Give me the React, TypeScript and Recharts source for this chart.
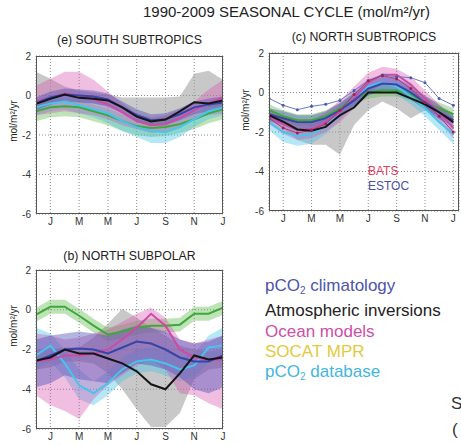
import React from "react"
import { ComposedChart, Area, Line, XAxis, YAxis, CartesianGrid } from "recharts"

// month index 0 = Dec, 1 = Jan ... 13 = Jan
const months = [0, 1, 2, 3, 4, 5, 6, 7, 8, 9, 10, 11, 12, 13]
const monthTicks = [1, 3, 5, 7, 9, 11, 13]
const monthLabels = ["J", "M", "M", "J", "S", "N", "J"]
const yTicks = [2, 0, -2, -4, -6]

// (e) South subtropics
const eGreyHi = [1.2, 0.85, 0.45, 0.25, 0.15, 0.05, -0.1, -0.1, -0.1, -0.1, -0.05, 1.1, 1.25, 0.8]
const eGreyLo = [-0.7, -0.5, -0.2, -0.3, -0.4, -0.6, -0.9, -1.3, -1.5, -1.5, -1.2, -0.7, -0.6, -0.5]
const eBlack = [-0.42, -0.17, 0.05, -0.12, -0.17, -0.25, -0.6, -1.07, -1.32, -1.22, -0.8, -0.34, -0.4, -0.25]
const eMag = [-0.3, -0.1, 0.1, 0.0, -0.2, -0.45, -0.85, -1.3, -1.5, -1.45, -1.15, -0.75, -0.4, -0.1]
const eMagHi = [0.5, 0.85, 1.2, 1.2, 0.8, 0.2, -0.4, -0.9, -1.1, -1.0, -0.7, -0.3, 0.3, 0.8]
const eMagLo = [-1.0, -0.9, -0.8, -0.9, -1.0, -1.2, -1.5, -1.7, -1.9, -1.8, -1.6, -1.2, -1.0, -0.9]
const eBlue = [-0.4, -0.1, 0.05, 0.0, -0.05, -0.2, -0.6, -1.0, -1.25, -1.2, -0.95, -0.6, -0.45, -0.35]
const eBlueHi = [-0.1, 0.2, 0.35, 0.3, 0.25, 0.1, -0.3, -0.7, -0.95, -0.9, -0.65, -0.3, -0.15, -0.05]
const eBlueLo = [-0.75, -0.45, -0.3, -0.35, -0.4, -0.55, -0.9, -1.3, -1.55, -1.5, -1.25, -0.95, -0.8, -0.7]
const eCyan = [-0.6, -0.4, -0.3, -0.5, -0.7, -0.9, -1.3, -1.6, -1.8, -1.85, -1.6, -1.2, -0.8, -0.6]
const eCyanHi = [-0.2, 0.0, 0.1, -0.1, -0.3, -0.5, -0.9, -1.2, -1.4, -1.45, -1.2, -0.8, -0.4, -0.2]
const eCyanLo = [-1.0, -0.8, -0.7, -0.9, -1.1, -1.4, -1.8, -2.1, -2.4, -2.4, -2.1, -1.6, -1.2, -1.0]
const eGreen = [-0.8, -0.6, -0.55, -0.6, -0.8, -1.0, -1.3, -1.55, -1.65, -1.6, -1.45, -1.2, -0.9, -0.7]
const eGreenHi = [-0.45, -0.25, -0.2, -0.25, -0.45, -0.65, -0.95, -1.2, -1.3, -1.25, -1.1, -0.85, -0.55, -0.35]
const eGreenLo = [-1.3, -1.1, -1.05, -1.1, -1.3, -1.5, -1.8, -2.0, -2.1, -2.05, -1.9, -1.7, -1.4, -1.2]

// (c) North subtropics
const cGreyHi = [-1.0, -1.3, -1.6, -1.6, -1.3, -0.8, -0.3, 0.15, 0.2, 0.15, -0.2, -0.5, -0.8, -1.2]
const cGreyLo = [-1.3, -1.8, -2.4, -2.65, -2.65, -3.15, -1.65, -0.9, -0.45, -0.8, -1.3, -0.9, -1.2, -1.6]
const cBlack = [-1.15, -1.48, -1.87, -1.94, -1.74, -1.15, -0.76, 0, 0, 0, -0.3, -0.6, -1.0, -1.5]
const cMag = [-1.2, -1.6, -1.9, -1.85, -1.5, -1.0, -0.3, 0.5, 0.9, 0.9, 0.4, -0.3, -1.0, -1.8]
const cMagHi = [-0.8, -1.2, -1.5, -1.4, -1.0, -0.4, 0.3, 1.0, 1.3, 1.2, 0.8, 0.1, -0.6, -1.3]
const cMagLo = [-1.6, -2.1, -2.4, -2.3, -2.0, -1.5, -0.8, 0.0, 0.4, 0.5, 0.0, -0.7, -1.5, -2.3]
const cBats = [-1.3, -1.8, -2.05, -1.9, -1.6, -0.9, -0.1, 0.6, 0.85, 0.7, 0.2, -0.5, -1.2, -2.0]
const cEstoc = [-0.3, -0.65, -0.87, -0.7, -0.6, -0.4, 0.1, 0.6, 0.88, 0.8, 0.75, 0.5, -0.3, -0.65]
const cBlue = [-1.1, -1.3, -1.5, -1.5, -1.3, -0.9, -0.4, 0.2, 0.45, 0.4, 0.0, -0.5, -1.0, -1.4]
const cBlueHi = [-0.8, -0.95, -1.15, -1.15, -0.95, -0.55, -0.05, 0.55, 0.8, 0.75, 0.35, -0.15, -0.65, -1.05]
const cBlueLo = [-1.45, -1.65, -1.85, -1.85, -1.65, -1.25, -0.75, -0.15, 0.1, 0.05, -0.35, -0.85, -1.35, -1.75]
const cCyan = [-1.5, -2.0, -2.2, -2.1, -1.7, -1.0, -0.3, 0.3, 0.5, 0.3, -0.2, -0.8, -1.5, -2.1]
const cCyanHi = [-1.1, -1.6, -1.8, -1.7, -1.3, -0.6, 0.1, 0.7, 0.9, 0.7, 0.2, -0.4, -1.1, -1.7]
const cCyanLo = [-1.9, -2.5, -2.7, -2.6, -2.1, -1.4, -0.7, -0.1, 0.1, -0.1, -0.6, -1.2, -1.9, -2.6]
const cGreen = [-0.9, -1.2, -1.4, -1.4, -1.2, -0.8, -0.3, 0.0, 0.1, 0.1, -0.1, -0.5, -0.8, -1.1]
const cGreenHi = [-0.6, -0.9, -1.1, -1.1, -0.9, -0.5, 0.0, 0.3, 0.4, 0.4, 0.2, -0.2, -0.5, -0.8]
const cGreenLo = [-1.2, -1.5, -1.7, -1.7, -1.5, -1.1, -0.6, -0.3, -0.2, -0.2, -0.4, -0.8, -1.1, -1.4]

// (b) North subpolar
const bGreyHi = [-2.0, -2.0, -1.9, -1.9, -1.4, -0.7, 0.05, -0.4, -0.9, -1.3, -1.8, -2.0, -2.1, -2.0]
const bGreyLo = [-3.0, -2.9, -2.6, -2.6, -2.7, -3.2, -4.0, -5.0, -5.9, -5.9, -5.2, -3.5, -3.0, -2.9]
const bBlack = [-2.55, -2.4, -2.0, -2.2, -2.2, -2.45, -2.7, -3.1, -3.75, -4.0, -3.2, -2.3, -2.5, -2.4]
const bMag = [-2.6, -2.5, -2.3, -2.3, -2.2, -2.0, -1.5, -0.9, -0.2, -0.8, -2.0, -2.4, -2.5, -2.5]
const bMagHi = [-1.2, -1.3, -1.5, -1.4, -1.2, -1.0, -0.6, -0.2, 0.1, -0.4, -1.5, -1.7, -1.5, -1.3]
const bMagLo = [-4.3, -4.8, -5.1, -5.5, -4.5, -3.8, -3.3, -2.8, -2.5, -3.0, -4.2, -4.3, -4.7, -5.0]
const bBlue = [-2.6, -2.3, -2.0, -1.95, -2.0, -2.2, -1.9, -1.6, -1.7, -2.0, -2.4, -2.6, -2.6, -2.3]
const bBlueHi = [-1.5, -1.3, -1.2, -1.1, -1.2, -1.3, -1.0, -0.8, -0.9, -1.1, -1.5, -1.7, -1.6, -1.3]
const bBlueLo = [-3.9, -3.7, -3.3, -3.5, -3.6, -3.7, -3.2, -2.7, -2.8, -3.0, -3.4, -4.0, -4.2, -3.9]
const bCyan = [-2.3, -1.8, -2.7, -3.8, -4.2, -3.7, -3.0, -2.6, -2.5, -2.7, -3.0, -2.8, -1.9, -1.8]
const bCyanHi = [-0.9, -1.2, -2.0, -3.0, -3.6, -3.1, -2.4, -2.0, -1.9, -2.1, -2.4, -2.2, -1.3, -0.9]
const bCyanLo = [-3.0, -2.6, -3.4, -4.5, -4.8, -4.3, -3.6, -3.2, -3.1, -3.3, -3.6, -3.4, -2.6, -2.4]
const bGreen = [-0.25, 0.15, 0.15, -0.3, -0.8, -1.25, -1.1, -0.9, -0.8, -0.8, -0.75, -0.2, -0.2, 0.1]
const bGreenHi = [0.1, 0.5, 0.5, 0.05, -0.45, -0.9, -0.75, -0.55, -0.45, -0.45, -0.4, 0.15, 0.15, 0.45]
const bGreenLo = [-0.6, -0.2, -0.2, -0.65, -1.15, -1.6, -1.45, -1.25, -1.15, -1.15, -1.1, -0.55, -0.55, -0.25]

const FONT = '"Liberation Sans", Arial, sans-serif'

const colors = {
    grey: "#9a9a9a",
    green: "#5cb84a",
    cyan: "#3cc0ea",
    magenta: "#d455ad",
    blue: "#4a4fb5",
    black: "#151515",
}

function rows(s: Record<string, number[]>) {
    return months.map((m, i) => ({
        m,
        greyBand: [s.greyLo[i], s.greyHi[i]],
        greenBand: [s.greenLo[i], s.greenHi[i]],
        cyanBand: [s.cyanLo[i], s.cyanHi[i]],
        magBand: [s.magLo[i], s.magHi[i]],
        blueBand: [s.blueLo[i], s.blueHi[i]],
        green: s.green[i],
        cyan: s.cyan[i],
        mag: s.mag[i],
        blue: s.blue[i],
        black: s.black[i],
        bats: s.bats ? s.bats[i] : null,
        estoc: s.estoc ? s.estoc[i] : null,
    }))
}

const eRows = rows({
    greyHi: eGreyHi, greyLo: eGreyLo, black: eBlack,
    mag: eMag, magHi: eMagHi, magLo: eMagLo,
    blue: eBlue, blueHi: eBlueHi, blueLo: eBlueLo,
    cyan: eCyan, cyanHi: eCyanHi, cyanLo: eCyanLo,
    green: eGreen, greenHi: eGreenHi, greenLo: eGreenLo,
})
const cRows = rows({
    greyHi: cGreyHi, greyLo: cGreyLo, black: cBlack,
    mag: cMag, magHi: cMagHi, magLo: cMagLo,
    blue: cBlue, blueHi: cBlueHi, blueLo: cBlueLo,
    cyan: cCyan, cyanHi: cCyanHi, cyanLo: cCyanLo,
    green: cGreen, greenHi: cGreenHi, greenLo: cGreenLo,
    bats: cBats, estoc: cEstoc,
})
const bRows = rows({
    greyHi: bGreyHi, greyLo: bGreyLo, black: bBlack,
    mag: bMag, magHi: bMagHi, magLo: bMagLo,
    blue: bBlue, blueHi: bBlueHi, blueLo: bBlueLo,
    cyan: bCyan, cyanHi: bCyanHi, cyanLo: bCyanLo,
    green: bGreen, greenHi: bGreenHi, greenLo: bGreenLo,
})

interface PanelProps {
    x: number
    y: number
    w: number
    h: number
    xMax: number
    data: any[]
    title: string
    titleY: number
    labelX: number
    labelY: number
    stations?: boolean
}

function Panel({ x, y, w, h, xMax, data, title, titleY, labelX, labelY, stations }: PanelProps) {
    const band = (key: string, fill: string, op: number) => (
        <Area type="linear" dataKey={key} stroke="none" fill={fill} fillOpacity={op} isAnimationActive={false} />
    )
    const line = (key: string, stroke: string, width = 2) => (
        <Line type="linear" dataKey={key} stroke={stroke} strokeWidth={width} dot={false} isAnimationActive={false} />
    )
    return (
        <>
            <div style={{ position: "absolute", left: x, width: w, top: titleY, textAlign: "center", fontSize: 12.3, color: "#222", fontFamily: FONT, whiteSpace: "nowrap" }}>
                {title}
            </div>
            <div style={{ position: "absolute", left: labelX, top: labelY, transform: "translate(-50%, -50%) rotate(-90deg)", fontSize: 10, color: "#222", fontFamily: FONT, whiteSpace: "nowrap" }}>
                mol/m²/yr
            </div>
            <div style={{ position: "absolute", left: x - 36, top: y - 10 }}>
                <ComposedChart width={w + 44} height={h + 32} data={data} margin={{ top: 10, right: 8, left: 6, bottom: 4 }}>
                    <CartesianGrid stroke="#8a8a8a" strokeDasharray="1 2" />
                    <XAxis
                        dataKey="m"
                        type="number"
                        domain={[0, xMax]}
                        ticks={monthTicks}
                        tickFormatter={(v: number) => monthLabels[(v - 1) / 2]}
                        allowDataOverflow
                        axisLine={false}
                        tickLine={false}
                        tickSize={2}
                        tickMargin={2}
                        height={18}
                        tick={{ fontSize: 10, fill: "#333", fontFamily: FONT }}
                    />
                    <YAxis
                        type="number"
                        domain={[-6, 2]}
                        ticks={yTicks}
                        axisLine={false}
                        tickLine={false}
                        tickSize={2}
                        tickMargin={3}
                        width={30}
                        tick={{ fontSize: 10, fill: "#333", fontFamily: FONT }}
                    />
                    {band("greyBand", colors.grey, 0.55)}
                    {band("greenBand", colors.green, 0.4)}
                    {band("cyanBand", colors.cyan, 0.38)}
                    {band("magBand", colors.magenta, 0.38)}
                    {band("blueBand", colors.blue, 0.42)}
                    {line("green", "#3fa83a")}
                    {line("cyan", "#45c4ee")}
                    {line("mag", "#cf4aa6")}
                    {line("blue", "#3a44a8")}
                    {stations && (
                        <Line type="linear" dataKey="estoc" stroke="#6a7ac8" strokeWidth={1} dot={{ r: 1.5, fill: "#4a58b0", stroke: "none" }} isAnimationActive={false} />
                    )}
                    {stations && (
                        <Line type="linear" dataKey="bats" stroke="#c0306a" strokeWidth={1} dot={{ r: 1.5, fill: "#a02050", stroke: "none" }} isAnimationActive={false} />
                    )}
                    {line("black", colors.black)}
                </ComposedChart>
            </div>
            <div style={{ position: "absolute", left: x, top: y, width: w, height: h, border: "1px solid #555", boxSizing: "border-box", pointerEvents: "none" }} />
        </>
    )
}

const legendItems = [
    { label: "pCO", sub: "2", rest: " climatology", color: "#4c54ae" },
    { label: "Atmospheric inversions", sub: "", rest: "", color: "#222" },
    { label: "Ocean models", sub: "", rest: "", color: "#cc4fa8" },
    { label: "SOCAT MPR", sub: "", rest: "", color: "#e2ca3c" },
    { label: "pCO", sub: "2", rest: " database", color: "#42b6e2" },
]

export default function App() {
    return (
        <div style={{ position: "absolute", left: 0, top: 0, width: 461, height: 445, background: "#fff", overflow: "hidden", fontFamily: FONT }}>
            <div style={{ position: "absolute", left: 143, top: 3, fontSize: 15, color: "#222", whiteSpace: "nowrap" }}>
                1990-2009 SEASONAL CYCLE (mol/m²/yr)
            </div>
            <Panel x={36} y={56} w={187} h={158} xMax={13} data={eRows} title="(e) SOUTH SUBTROPICS" titleY={33} labelX={13} labelY={121} />
            <Panel x={269} y={53} w={190} h={158} xMax={13.4} data={cRows} title="(c) NORTH SUBTROPICS" titleY={30} labelX={245} labelY={110} stations />
            <Panel x={36} y={270} w={187} h={159} xMax={13} data={bRows} title="(b) NORTH SUBPOLAR" titleY={249} labelX={13} labelY={326} />
            <div style={{ position: "absolute", left: 368, top: 164, fontSize: 12, color: "#e23c5c" }}>BATS</div>
            <div style={{ position: "absolute", left: 368, top: 179, fontSize: 12, color: "#4850a6" }}>ESTOC</div>
            <div style={{ position: "absolute", left: 265, top: 276, fontSize: 17, lineHeight: "20.3px", whiteSpace: "nowrap" }}>
                {legendItems.map((it, i) => (
                    <div key={i} style={{ color: it.color }}>
                        {it.label}
                        {it.sub && <sub style={{ fontSize: 10, verticalAlign: "-3px" }}>{it.sub}</sub>}
                        {it.rest}
                    </div>
                ))}
            </div>
            <div style={{ position: "absolute", left: 451, top: 394, fontSize: 17, color: "#333" }}>S</div>
            <div style={{ position: "absolute", left: 452, top: 420, fontSize: 17, color: "#333" }}>(</div>
        </div>
    )
}
